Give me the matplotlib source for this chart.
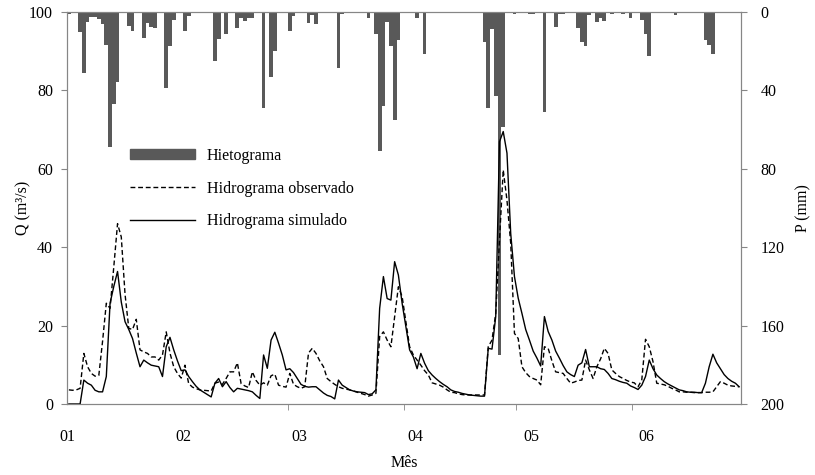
import numpy as np
import matplotlib
matplotlib.use('Agg')
import matplotlib.pyplot as plt
from matplotlib.patches import Patch
from matplotlib.lines import Line2D

# vazao observada (m3/s), um valor por dia, 01/01 a 29/06
q_obs = [3.6, 3.5, 3.6, 4.0, 12.9, 9.5, 7.8, 7.1, 7.3, 16.0,
         25.7, 24.4, 35.0, 46.0, 42.6, 28.0, 19.3, 19.0, 21.6, 13.8,
         13.3, 12.9, 12.0, 12.0, 11.2, 12.5, 18.4, 13.0, 9.5, 7.8,
         6.6, 9.9, 5.2, 4.3, 3.9, 3.6, 3.5, 3.4, 3.3, 5.3,
         5.6, 5.0, 6.5, 8.2, 8.2, 10.5, 5.2, 4.6, 4.2, 8.2,
         6.0, 4.8, 5.4, 4.8, 7.2, 7.6, 4.8, 4.5, 4.3, 7.8,
         5.0, 4.4, 4.0, 4.4, 13.0, 14.2, 12.9, 11.0, 9.5, 6.5,
         5.7, 5.0, 4.4, 4.0, 3.8, 3.6, 3.3, 3.0, 2.7, 2.4,
         2.0, 2.3, 2.7, 17.2, 18.4, 16.3, 14.6, 22.3, 29.9, 27.4,
         21.0, 14.6, 12.5, 11.2, 9.9, 8.5, 7.4, 5.4, 5.1, 4.8,
         4.3, 3.6, 3.0, 2.9, 2.6, 2.4, 2.3, 2.3, 2.3, 2.3,
         2.3, 2.3, 14.6, 16.3, 23.1, 41.8, 59.7, 52.0, 41.0, 18.0,
         16.7, 9.5, 8.0, 7.0, 6.5, 6.1, 4.9, 14.6, 14.2, 11.0,
         8.2, 8.0, 7.8, 6.5, 5.3, 5.6, 6.0, 6.1, 11.2, 8.7,
         6.5, 9.5, 11.5, 14.2, 12.9, 8.7, 7.8, 7.0, 6.5, 6.0,
         5.6, 5.4, 4.4, 6.1, 16.5, 14.6, 10.8, 5.3, 5.1, 4.9,
         4.5, 4.0, 3.6, 3.1, 3.1, 3.0, 3.0, 2.9, 2.9, 2.9,
         3.0, 3.0, 3.1, 4.4, 5.7, 5.3, 4.8, 4.6, 4.5, 4.4]

# vazao simulada (m3/s)
q_sim = [0.0, 0.0, 0.0, 0.0, 6.1, 5.3, 4.8, 3.5, 3.1, 3.1,
         7.0, 25.7, 30.0, 33.8, 26.0, 21.0, 19.0, 16.7, 13.0, 9.5,
         11.2, 10.5, 9.9, 9.7, 9.5, 7.0, 14.6, 17.0, 13.8, 11.0,
         8.5, 8.7, 7.0, 5.7, 4.5, 3.6, 3.0, 2.4, 1.8, 5.3,
         6.5, 4.4, 5.7, 4.2, 3.1, 4.0, 3.8, 3.6, 3.4, 3.1,
         2.2, 1.4, 12.5, 9.1, 16.3, 18.3, 15.5, 12.5, 8.7, 9.0,
         8.0, 6.5, 5.0, 4.5, 4.3, 4.4, 4.4, 3.6, 2.8, 2.2,
         1.9, 1.3, 6.1, 4.8, 4.2, 3.6, 3.3, 3.1, 3.0, 2.9,
         2.4, 2.6, 3.6, 24.4, 32.5, 26.9, 26.5, 36.3, 32.9, 25.7,
         19.7, 13.8, 12.0, 9.0, 12.9, 10.4, 8.5, 7.4, 6.5, 5.7,
         5.0, 4.4, 3.6, 3.2, 3.0, 2.7, 2.5, 2.3, 2.2, 2.1,
         2.0, 2.0, 14.2, 14.0, 22.3, 66.9, 69.5, 64.0, 43.5, 32.5,
         27.0, 23.1, 19.0, 16.3, 13.5, 11.7, 9.7, 22.3, 18.5, 16.3,
         13.5, 11.7, 9.8, 8.2, 7.5, 7.0, 9.9, 10.5, 13.9, 9.5,
         9.5, 9.5, 9.0, 8.8, 7.8, 6.5, 6.2, 5.8, 5.5, 5.3,
         4.6, 4.2, 3.7, 4.8, 7.0, 11.2, 9.0, 7.4, 6.5, 5.7,
         5.1, 4.6, 4.1, 3.6, 3.4, 3.1, 3.0, 3.0, 2.9, 2.9,
         5.3, 9.5, 12.7, 10.5, 9.0, 7.5, 6.5, 5.8, 5.3, 4.4]

# precipitacao diaria (mm)
p_mm = [1.2, 0.5, 0, 10, 31, 5, 2.4, 2.4, 3.6, 6.3,
        16.8, 68.7, 47, 35.5, 0, 0, 7, 9.7, 0.3, 0,
        13.4, 5.8, 7.5, 8, 0, 0, 38.6, 17.2, 4, 0,
        0, 9.7, 1.9, 0, 0, 0, 0, 0, 0, 25,
        13.8, 0, 11.4, 0, 0, 8, 3.2, 4.6, 2.9, 2.9,
        0.5, 0, 49, 0, 33, 20, 0, 0.3, 0, 9.5,
        2, 0, 0.7, 0.7, 5.8, 1.5, 6.3, 0, 0.3, 0,
        0, 0, 28.4, 1.2, 0, 0, 0, 0, 0, 0,
        3.2, 0, 11.4, 71, 48, 5, 17.2, 55, 14.3, 0,
        0, 0, 0, 3.2, 0, 21.6, 0.3, 0, 0.3, 0,
        0.5, 0.5, 0, 0, 0, 0, 0.5, 0, 0, 0,
        0, 15.5, 49, 8.7, 43, 175, 58.5, 0, 0, 1.2,
        0, 0, 0, 1, 1, 0.5, 0, 51, 0, 0,
        7.5, 0.8, 0.8, 0.5, 0, 0, 8, 15.5, 17.2, 1.5,
        0, 5, 2.9, 4.6, 0, 0.8, 0, 0, 1.2, 0,
        2.9, 0, 0.5, 4, 11.4, 22.3, 0, 0.5, 0, 0,
        0, 0, 1.5, 0.5, 0, 0, 0, 0, 0, 0.5,
        14.3, 16.8, 21.6, 0, 0, 0, 0, 0, 0, 0]

inicio_mes = [0, 31, 59, 90, 120, 151]
pos_rotulos = [0, 31, 62, 93, 124, 154.6]
rotulos_mes = ['01', '02', '03', '04', '05', '06']

plt.rcParams['font.family'] = ['Liberation Serif', 'DejaVu Serif']
cinza = '#868686'

fig = plt.figure(figsize=(8.15, 4.75), dpi=100)
ax = fig.add_axes([0.0822, 0.1495, 0.8270, 0.8253])
ax2 = ax.twinx()

dias = np.arange(len(q_obs)) + 0.5

ax2.bar(dias, p_mm, width=1.0, color='#595959', linewidth=0)
ax2.set_ylim(200, 0)
ax2.set_yticks(range(0, 201, 40))

ax.plot(dias, q_obs, color='black', lw=1.0, ls=(0, (3.5, 2)))
ax.plot(dias, q_sim, color='black', lw=1.0)
ax.set_ylim(0, 100)
ax.set_xlim(0, 180)
ax.set_yticks(range(0, 101, 20))

# linhas por cima das barras
ax.set_zorder(ax2.get_zorder() + 1)
ax.patch.set_visible(False)

ax.set_xticks(pos_rotulos)
ax.set_xticklabels(rotulos_mes)
ax.set_xticks(inicio_mes, minor=True)
ax.tick_params(axis='x', which='major', length=0, pad=18)
ax.tick_params(axis='x', which='minor', length=4, color=cinza)

for a in (ax, ax2):
    for s in a.spines.values():
        s.set_color(cinza)
    a.tick_params(axis='y', length=4, color=cinza, labelsize=11.5)
ax.tick_params(axis='x', labelsize=11.5)
ax.tick_params(axis='y', pad=6)
ax2.tick_params(axis='y', pad=10)

ax.set_ylabel('Q (m³/s)', fontsize=11.5)
ax.yaxis.set_label_coords(-0.053, 0.5)
ax2.set_ylabel('P (mm)', fontsize=11.5)
ax2.yaxis.set_label_coords(1.08, 0.5)
ax.set_xlabel('Mês', fontsize=11.5)
ax.xaxis.set_label_coords(0.5, -0.13)

handles = [Patch(color='#595959'),
           Line2D([], [], color='black', lw=1.0, ls=(0, (3.5, 2))),
           Line2D([], [], color='black', lw=1.0)]
labels = ['Hietograma', 'Hidrograma observado', 'Hidrograma simulado']
ax.legend(handles, labels, loc='upper left', bbox_to_anchor=(0.072, 0.69),
          frameon=False, fontsize=11.5, handlelength=4.1, handleheight=0.6,
          labelspacing=1.05, handletextpad=0.7)

fig.savefig('out.png', dpi=100)
